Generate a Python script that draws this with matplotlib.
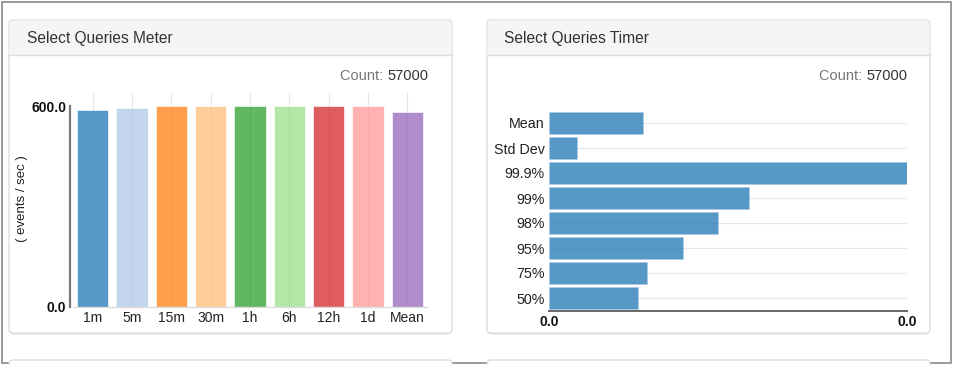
import numpy as np
import matplotlib
matplotlib.use("Agg")
import matplotlib.pyplot as plt
from matplotlib.patches import FancyBboxPatch, Rectangle

plt.rcParams['font.family'] = ['Liberation Sans', 'DejaVu Sans']

# meter data (events / sec)
meter_labels = ['1m', '5m', '15m', '30m', '1h', '6h', '12h', '1d', 'Mean']
meter_rates = [587, 595, 599, 599.5, 600, 600, 600, 600, 583]
meter_colors = ['#1f77b4', '#aec7e8', '#ff7f0e', '#ffbb78', '#2ca02c',
                '#98df8a', '#d62728', '#ff9896', '#9467bd']
meter_max = 600.0

# timer data (seconds)
timer_labels = ['Mean', 'Std Dev', '99.9%', '99%', '98%', '95%', '75%', '50%']
timer_values = [0.0105, 0.0031, 0.0400, 0.0223, 0.0189, 0.0150, 0.0109, 0.0099]

count = 57000

W, H = 956, 365
fig = plt.figure(figsize=(W / 100, H / 100), dpi=100)
fig.patch.set_facecolor('white')


def box(x, y, w, h):
    # pixel box (top-left origin) -> figure fraction
    return [x / W, 1 - (y + h) / H, w / W, h / H]


# background layer in pixel coords
bg = fig.add_axes([0, 0, 1, 1])
bg.set_xlim(0, W)
bg.set_ylim(H, 0)
bg.axis('off')

bg.add_patch(Rectangle((2, 2), 949, 361, fill=False, ec='#8a8a8a', lw=1.2))

for px in (9, 487):
    for py, ph in ((20, 313), (360, 60)):
        bg.add_patch(FancyBboxPatch((px + 1, py + 2), 441, ph,
                                    boxstyle='round,pad=0,rounding_size=4',
                                    fc='#ececec', ec='none', zorder=1))
        bg.add_patch(FancyBboxPatch((px, py), 443, ph,
                                    boxstyle='round,pad=0,rounding_size=4',
                                    fc='white', ec='#dddddd', lw=1, zorder=2))
    bg.add_patch(FancyBboxPatch((px + 0.5, 20.5), 442, 34,
                                boxstyle='round,pad=0,rounding_size=4',
                                fc='#f5f5f5', ec='none', zorder=3))
    bg.add_patch(Rectangle((px + 0.5, 45), 442, 9.5, fc='#f5f5f5', ec='none', zorder=3))
    bg.plot([px, px + 443], [54.5, 54.5], color='#dddddd', lw=1, zorder=4)

bg.text(27, 38, 'Select Queries Meter', fontsize=11.2, color='#333333', va='center', zorder=5)
bg.text(504, 38, 'Select Queries Timer', fontsize=11.2, color='#333333', va='center', zorder=5)

for xr in (428, 907):
    t = bg.text(xr, 76, f'{count}', fontsize=10.5, color='#333333', ha='right', va='center', zorder=5)
    bg.annotate('Count: ', xy=(0, 0.5), xycoords=t, fontsize=10.5, color='#777777',
                ha='right', va='center', zorder=5)

bg.text(22, 199, '( events / sec )', fontsize=9.5, color='#222222', rotation=90,
        ha='center', va='center', zorder=5)

# meter chart
ax1 = fig.add_axes(box(73, 93, 354, 213.7))
ax1.set_facecolor('none')
for s in ('top', 'right'):
    ax1.spines[s].set_visible(False)
ax1.spines['left'].set_position(('outward', 2))
ax1.spines['left'].set_color('#777777')
ax1.spines['left'].set_linewidth(1.6)
ax1.spines['bottom'].set_color('#dddddd')
ax1.spines['bottom'].set_linewidth(1)

x = np.arange(len(meter_labels))
ax1.bar(x, meter_rates, width=0.79, color=meter_colors, alpha=0.75,
        edgecolor='white', linewidth=0.6, zorder=2)
ax1.set_xlim(-0.5, len(meter_labels) - 0.5)
ax1.set_ylim(0, meter_max * 213.7 / 200.7)
ax1.spines['left'].set_bounds(0, meter_max)
ax1.set_xticks(x)
ax1.set_xticklabels(meter_labels, fontsize=10, color='#222222')
ax1.set_yticks([0, meter_max])
ax1.set_yticklabels([f'{v:.1f}' for v in (0, meter_max)], fontsize=10,
                    fontweight='bold', color='#111111')
ax1.tick_params(axis='both', length=0, pad=3)
ax1.grid(axis='x', color='#e6e6e6', lw=0.8, zorder=0)

# timer chart
ax2 = fig.add_axes(box(549, 110, 358, 201))
ax2.set_facecolor('none')
for s in ('top', 'right', 'left'):
    ax2.spines[s].set_visible(False)
ax2.spines['bottom'].set_color('#666666')
ax2.spines['bottom'].set_linewidth(1.4)

y = np.arange(len(timer_labels))
ax2.barh(y, timer_values, height=0.88, color='#1f77b4', alpha=0.75,
         edgecolor='#aec7e8', linewidth=0.6, zorder=2)
ax2.set_ylim(len(timer_labels) - 0.48, -0.52)
ax2.set_xlim(0, max(timer_values))
ax2.set_yticks(y)
ax2.set_yticklabels(timer_labels, fontsize=10.3, color='#222222')
ax2.set_xticks([0, max(timer_values)])
ax2.set_xticklabels([f'{v:.1f}' for v in (0, max(timer_values))], fontsize=10,
                    fontweight='bold', color='#111111')
ax2.tick_params(axis='both', length=0, pad=3)
ax2.grid(axis='y', color='#e6e6e6', lw=0.8, zorder=0)

fig.savefig('out.png', dpi=100)
